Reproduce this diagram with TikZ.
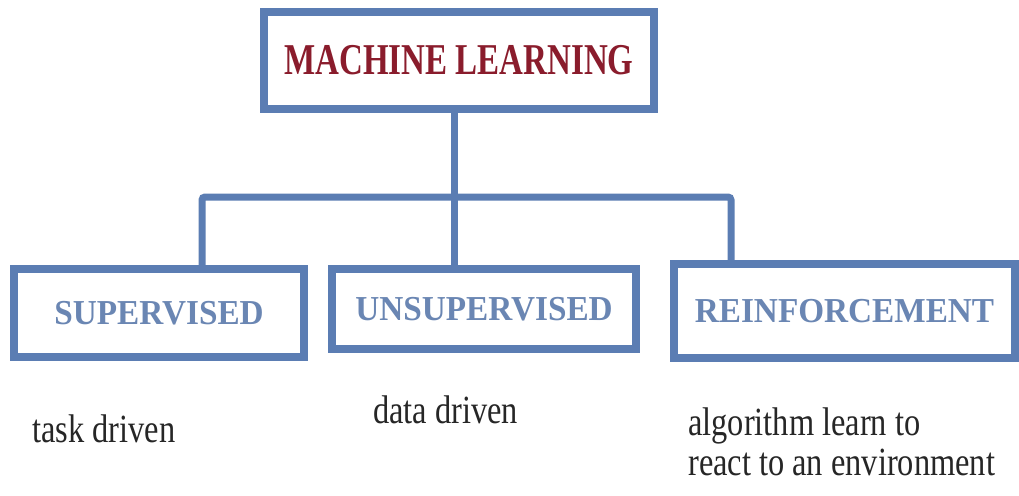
\documentclass[tikz,border=0pt]{standalone}
\usepackage{fontspec}
\setmainfont{Liberation Serif}
\newfontfamily\mlfont[FakeStretch=0.75]{Liberation Serif}
\newfontfamily\boxfont[FakeStretch=0.95]{Liberation Serif}
\newfontfamily\bodyfont[FakeStretch=0.81]{Liberation Serif}
\definecolor{boxblue}{HTML}{5B7DB3}
\definecolor{lblblue}{HTML}{6A86B3}
\definecolor{mlred}{HTML}{8A1C2C}
\definecolor{bodygray}{HTML}{262626}
\tikzset{
  box/.style={draw=boxblue, line width=8pt, rectangle, inner sep=0pt, fill=white},
  toplabel/.style={text=mlred, font=\mlfont\bfseries\fontsize{44}{48}\selectfont},
  boxlabel/.style={text=lblblue, font=\boxfont\bfseries\fontsize{35}{40}\selectfont},
  desc/.style={text=bodygray, font=\bodyfont\fontsize{40}{40}\selectfont, inner sep=0pt, align=left},
  conn/.style={draw=boxblue, line width=7pt, rounded corners=3pt},
}
\begin{document}
\begin{tikzpicture}[x=1pt,y=-1pt]
\useasboundingbox (0,0) rectangle (1019,495);
\fill[white] (0,0) rectangle (1019,495);
\coordinate (j1) at (202,197);
\coordinate (j2) at (454,197);
\coordinate (j3) at (731,197);
\node[box, toplabel, minimum width=390pt, minimum height=97pt] (ml) at (459,60.5) {MACHINE LEARNING};
\node[box, boxlabel, minimum width=290pt, minimum height=88pt] (sup) at (159,313) {SUPERVISED};
\node[box, boxlabel, minimum width=304pt, minimum height=80pt] (uns) at (484,309) {UNSUPERVISED};
\node[box, boxlabel, minimum width=341pt, minimum height=94pt] (rei) at (844.5,311) {REINFORCEMENT};
\draw[conn] (ml.south -| j2) -- (j2);
\draw[conn] (sup.north -| j1) -- (j1) -- (j3) -- (rei.north -| j3);
\draw[conn] (j2) -- (uns.north -| j2);
\node[desc, anchor=base west] (t1) at (32,442) {task driven};
\node[desc, anchor=base west] (t2) at (373,423) {data driven};
\node[desc, anchor=base west] (t3) at (688,475) {algorithm learn to\\react to an environment};
\end{tikzpicture}
\end{document}
